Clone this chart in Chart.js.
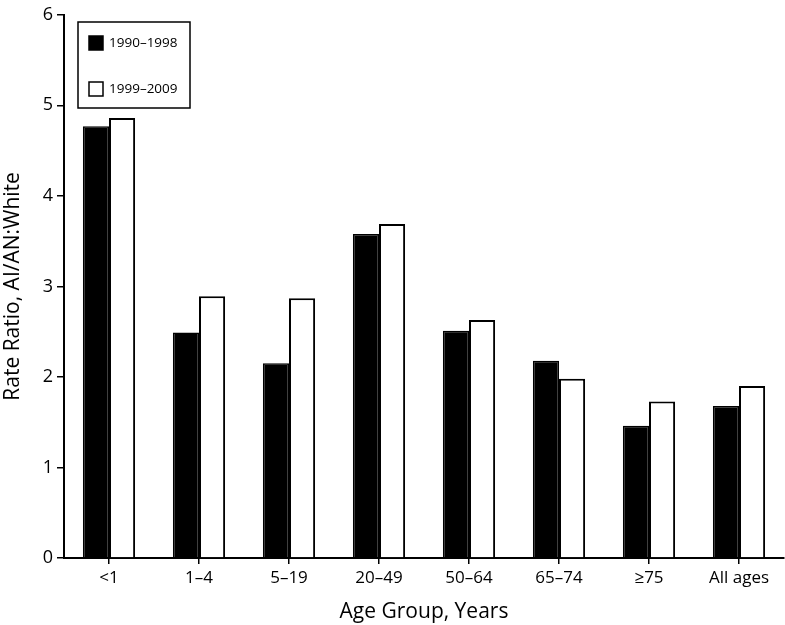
<!DOCTYPE html>
<html>
<head>
<meta charset="utf-8">
<script src="https://cdn.jsdelivr.net/npm/chart.js@4"></script>
<style>
  html, body { margin: 0; padding: 0; background: #fff; }
  #wrap { width: 785px; height: 625px; position: relative; }
</style>
</head>
<body>
<div id="wrap"><canvas id="chart" width="785" height="625"></canvas></div>
<script>
const ageGroups = ['<1', '1–4', '5–19', '20–49', '50–64', '65–74', '≥75', 'All ages'];
const periodLabels = ['1990–1998', '1999–2009'];
const ratio1990 = [4.77, 2.49, 2.15, 3.58, 2.51, 2.18, 1.46, 1.68];
const ratio1999 = [4.86, 2.89, 2.87, 3.69, 2.63, 1.98, 1.73, 1.90];
const yTicks = [0, 1, 2, 3, 4, 5, 6];

const FONT = "'Open Sans', 'Liberation Sans', sans-serif";

// legend box drawn inside the plot, upper left
const boxLegend = {
  id: 'boxLegend',
  afterDraw(chart) {
    const ctx = chart.ctx;
    const x = 78, y = 22, w = 112, h = 86;
    ctx.save();
    ctx.lineWidth = 1.5;
    ctx.strokeStyle = '#000';
    ctx.fillStyle = '#fff';
    ctx.fillRect(x, y, w, h);
    ctx.strokeRect(x, y, w, h);
    ctx.font = '13.5px ' + FONT;
    ctx.textBaseline = 'middle';
    chart.data.datasets.forEach((ds, i) => {
      const cy = y + 21 + i * 46;
      ctx.fillStyle = ds.backgroundColor;
      ctx.fillRect(89, cy - 7, 14, 14);
      ctx.lineWidth = 1.5;
      ctx.strokeRect(89, cy - 7, 14, 14);
      ctx.fillStyle = '#000';
      ctx.fillText(ds.label, 109, cy);
    });
    ctx.restore();
  }
};

new Chart(document.getElementById('chart'), {
  type: 'bar',
  data: {
    labels: ageGroups,
    datasets: [
      {
        label: periodLabels[0],
        data: ratio1990,
        backgroundColor: '#000',
        borderColor: '#000',
        borderWidth: 1.5,
        borderSkipped: 'bottom'
      },
      {
        label: periodLabels[1],
        data: ratio1999,
        backgroundColor: '#fff',
        borderColor: '#000',
        borderWidth: 2,
        borderSkipped: 'bottom'
      }
    ]
  },
  options: {
    responsive: false,
    animation: false,
    layout: { padding: { top: 9, right: 1, left: 0, bottom: 0 } },
    datasets: {
      bar: { categoryPercentage: 0.58, barPercentage: 1 }
    },
    scales: {
      x: {
        grid: {
          display: true,
          drawOnChartArea: false,
          drawTicks: true,
          tickLength: 6,
          offset: false,
          color: '#000',
          lineWidth: 1.5
        },
        border: { display: true, color: '#000', width: 2 },
        ticks: {
          color: '#000',
          font: { family: FONT, size: 17 },
          padding: 4,
          maxRotation: 0,
          autoSkip: false
        },
        title: {
          display: true,
          text: 'Age Group, Years',
          color: '#000',
          font: { family: FONT, size: 21 },
          padding: { top: 0, bottom: 0 }
        },
        afterFit(scale) { scale.height = 67; }
      },
      y: {
        min: 0,
        max: 6,
        afterBuildTicks(scale) { scale.ticks = yTicks.map(v => ({ value: v })); },
        grid: {
          display: true,
          drawOnChartArea: false,
          drawTicks: true,
          tickLength: 7,
          color: '#000',
          lineWidth: 1.5
        },
        border: { display: true, color: '#000', width: 2 },
        ticks: {
          color: '#000',
          font: { family: FONT, size: 18 },
          padding: 4
        },
        title: {
          display: true,
          text: 'Rate Ratio, AI/AN:White',
          color: '#000',
          font: { family: FONT, size: 21 },
          padding: { top: 0, bottom: 0 }
        },
        afterFit(scale) { scale.width = 64; }
      }
    },
    plugins: {
      legend: { display: false },
      tooltip: { enabled: false }
    }
  },
  plugins: [boxLegend]
});
</script>
</body>
</html>
